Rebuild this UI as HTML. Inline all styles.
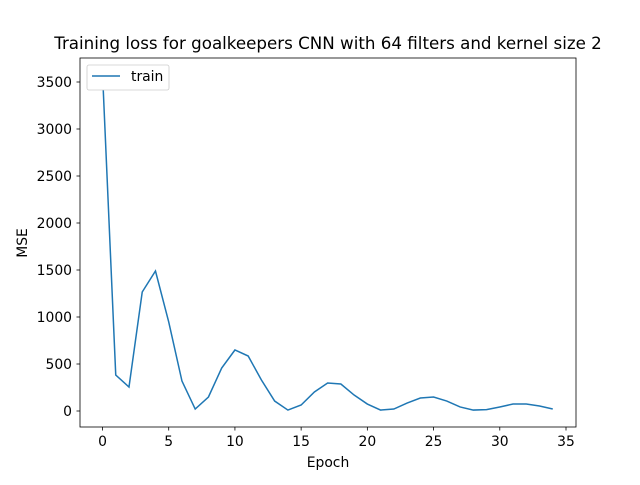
<!DOCTYPE html>
<html><head><meta charset="utf-8"><style>
body{margin:0;background:#fff;}
svg text{font-family:"DejaVu Sans","Liberation Sans",sans-serif;fill:#000;}
</style></head><body>
<svg id="chart" width="640" height="480" xmlns="http://www.w3.org/2000/svg">
<rect width="640" height="480" fill="#fff"/>
<text x="328" y="49" font-size="16.7" text-anchor="middle">Training loss for goalkeepers CNN with 64 filters and kernel size 2</text>
<g id="xt"></g>
<g id="yt"></g>
<path id="line" fill="none" stroke="#1f77b4" stroke-width="1.5"/>
<rect x="80" y="58" width="496" height="369" fill="none" stroke="#000" stroke-width="0.8"/>
<text x="328" y="467" font-size="13.9" text-anchor="middle">Epoch</text>
<text x="27" y="243" font-size="13.9" text-anchor="middle" transform="rotate(-90 27 243)">MSE</text>
<g>
<rect x="87" y="65" width="82" height="25" rx="2" fill="#fff" stroke="#ccc" stroke-width="0.8"/>
<line x1="92" y1="76" x2="120" y2="76" stroke="#1f77b4" stroke-width="1.5"/>
<text x="131" y="81" font-size="13.9">train</text>
</g>
</svg>
<script>
const epochs=[0,1,2,3,4,5,6,7,8,9,10,11,12,13,14,15,16,17,18,19,20,21,22,23,24,25,26,27,28,29,30,31,32,33,34];
const trainLoss=[3600,383,255,1266,1489,947,319,21,149,457,649,585,330,106,10,64,202,298,287,170,74,10,21,85,138,149,106,43,10,15,43,74,74,53,21];
const xTicks=[0,5,10,15,20,25,30,35];
const yTicks=[0,500,1000,1500,2000,2500,3000,3500];
const sx=v=>102.5+v*(566-102.5)/35;
const sy=v=>411-v*(411-82)/3500;
const NS="http://www.w3.org/2000/svg";
const xt=document.getElementById('xt'),yt=document.getElementById('yt');
xTicks.forEach(t=>{
 const l=document.createElementNS(NS,'line');
 l.setAttribute('x1',sx(t));l.setAttribute('x2',sx(t));l.setAttribute('y1',427);l.setAttribute('y2',430.5);l.setAttribute('stroke','#000');l.setAttribute('stroke-width','0.8');
 
 
 xt.appendChild(l);
 const tx=document.createElementNS(NS,'text');
 tx.setAttribute('x',sx(t));tx.setAttribute('y',446);tx.setAttribute('font-size','13.9');tx.setAttribute('text-anchor','middle');tx.textContent=t;
 
 
 xt.appendChild(tx);
});
yTicks.forEach(t=>{
 const l=document.createElementNS(NS,'line');
 l.setAttribute('x1',76.5);l.setAttribute('x2',80);l.setAttribute('y1',sy(t));l.setAttribute('y2',sy(t));l.setAttribute('stroke','#000');l.setAttribute('stroke-width','0.8');
 
 
 yt.appendChild(l);
 const tx=document.createElementNS(NS,'text');
 tx.setAttribute('x',72);tx.setAttribute('y',sy(t)+5);tx.setAttribute('font-size','13.9');tx.setAttribute('text-anchor','end');tx.textContent=t;
 
 
 yt.appendChild(tx);
});
document.getElementById('line').setAttribute('d',epochs.map((e,i)=>(i?'L':'M')+sx(e)+','+sy(trainLoss[i])).join(' '));
</script>
</body></html>
